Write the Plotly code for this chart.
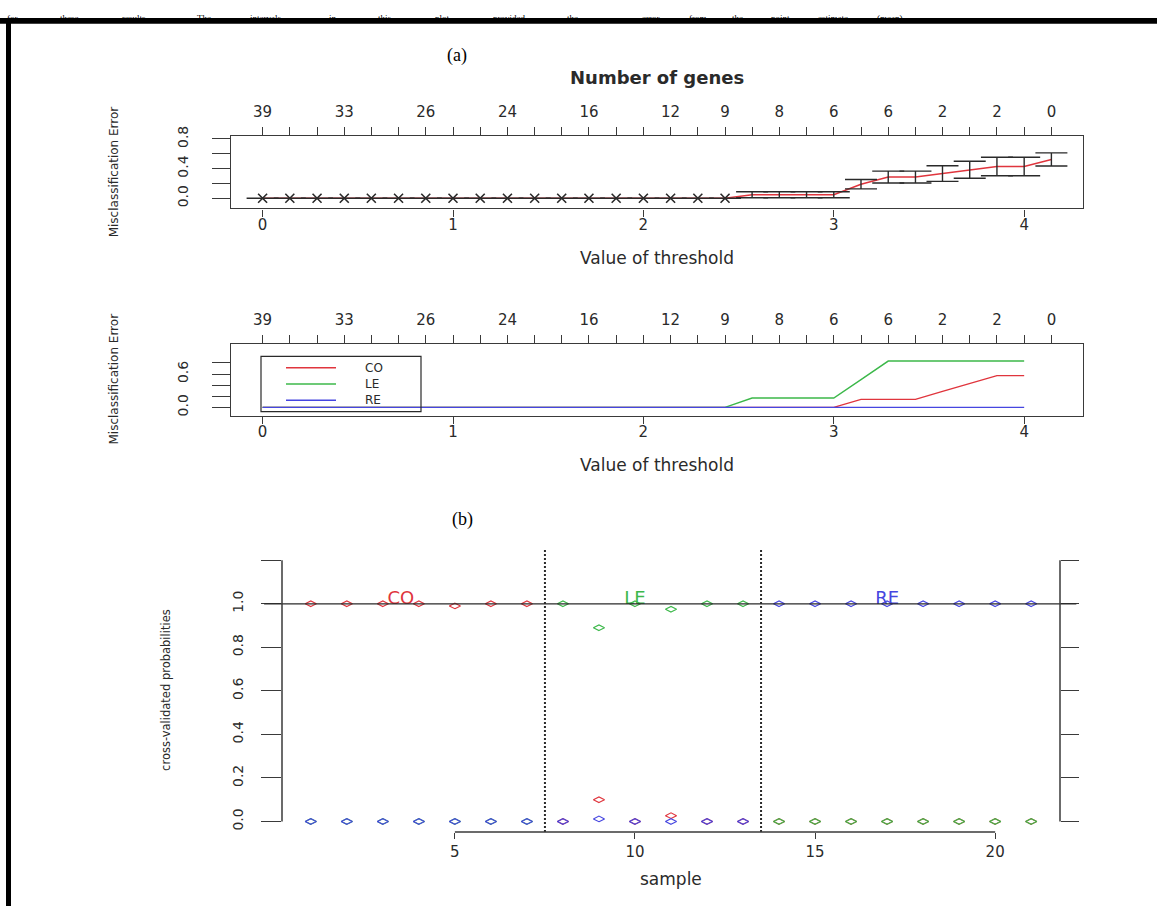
import plotly.graph_objects as go

W, H = 1157, 907

# ---------------- data ----------------
# panel (a) top: cross-validated misclassification error vs threshold
thresholds = [0.000, 0.143, 0.286, 0.429, 0.571, 0.714, 0.857, 1.000, 1.143, 1.286,
              1.429, 1.571, 1.714, 1.857, 2.000, 2.143, 2.286, 2.429, 2.571, 2.714,
              2.857, 3.000, 3.143, 3.286, 3.429, 3.571, 3.714, 3.857, 4.000, 4.143]
gene_labels = ["39", "", "", "33", "", "", "26", "", "", "24", "", "", "16", "", "",
               "12", "", "9", "", "8", "", "6", "", "6", "", "2", "", "2", "", "0"]
cv_error = [0.000, 0.000, 0.000, 0.000, 0.000, 0.000, 0.000, 0.000, 0.000, 0.000,
            0.000, 0.000, 0.000, 0.000, 0.000, 0.000, 0.000, 0.000, 0.048, 0.048,
            0.048, 0.048, 0.190, 0.286, 0.286, 0.333, 0.385, 0.429, 0.429, 0.524]
cv_se = [0.000, 0.000, 0.000, 0.000, 0.000, 0.000, 0.000, 0.000, 0.000, 0.000,
         0.000, 0.000, 0.000, 0.000, 0.000, 0.000, 0.000, 0.000, 0.040, 0.040,
         0.040, 0.040, 0.063, 0.080, 0.080, 0.105, 0.115, 0.125, 0.125, 0.088]

# panel (a) bottom: per-class error vs threshold (thresholds 0 .. 4.0)
class_names = ["CO", "LE", "RE"]
co_error = [0.000, 0.000, 0.000, 0.000, 0.000, 0.000, 0.000, 0.000, 0.000, 0.000,
            0.000, 0.000, 0.000, 0.000, 0.000, 0.000, 0.000, 0.000, 0.000, 0.000,
            0.000, 0.000, 0.143, 0.143, 0.143, 0.286, 0.429, 0.571, 0.571]
le_error = [0.000, 0.000, 0.000, 0.000, 0.000, 0.000, 0.000, 0.000, 0.000, 0.000,
            0.000, 0.000, 0.000, 0.000, 0.000, 0.000, 0.000, 0.000, 0.167, 0.167,
            0.167, 0.167, 0.500, 0.833, 0.833, 0.833, 0.833, 0.833, 0.833]
re_error = [0.000, 0.000, 0.000, 0.000, 0.000, 0.000, 0.000, 0.000, 0.000, 0.000,
            0.000, 0.000, 0.000, 0.000, 0.000, 0.000, 0.000, 0.000, 0.000, 0.000,
            0.000, 0.000, 0.000, 0.000, 0.000, 0.000, 0.000, 0.000, 0.000]

# panel (b): cross-validated probabilities per sample
samples = [1, 2, 3, 4, 5, 6, 7, 8, 9, 10, 11, 12, 13, 14, 15, 16, 17, 18, 19, 20, 21]
class_sizes = [7, 6, 8]
prob_co = [1.00, 1.00, 1.00, 1.00, 0.99, 1.00, 1.00, 0.00, 0.10, 0.00, 0.027, 0.00, 0.00,
           0.00, 0.00, 0.00, 0.00, 0.00, 0.00, 0.00, 0.00]
prob_le = [0.00, 0.00, 0.00, 0.00, 0.00, 0.00, 0.00, 1.00, 0.89, 1.00, 0.975, 1.00, 1.00,
           0.00, 0.00, 0.00, 0.00, 0.00, 0.00, 0.00, 0.00]
prob_re = [0.00, 0.00, 0.00, 0.00, 0.00, 0.00, 0.00, 0.00, 0.012, 0.00, 0.00, 0.00, 0.00,
           1.00, 1.00, 1.00, 1.00, 1.00, 1.00, 1.00, 1.00]

err_ticks = [0.0, 0.2, 0.4, 0.6, 0.8]
err_ticktext_1 = ["0.0", "", "0.4", "", "0.8"]
err_ticktext_2 = ["0.0", "", "", "0.6", ""]
thr_ticks = [0, 1, 2, 3, 4]
prob_ticks = [0.0, 0.2, 0.4, 0.6, 0.8, 1.0, 1.2]
prob_ticktext = ["0.0", "0.2", "0.4", "0.6", "0.8", "1.0", ""]
sample_ticks = [5, 10, 15, 20]

# running text of the page above the figure (cut by the crop)
page_text_left = "for these results. The intervals in this plot provided the"
page_text_right = "error from the point estimate (mean)."

# ---------------- style ----------------
RED = "#E0353D"
GREEN = "#3CB84A"
BLUE = "#4646E0"
INK = "#2a2a2a"
AX = "#3a3a3a"
SANS = "DejaVu Sans, Liberation Sans, Arial, sans-serif"
SERIF = "Liberation Serif, Times New Roman, serif"
CLASS_COLORS = [RED, GREEN, BLUE]


def xd(a, b):
    return [a / W, b / W]


def yd(top, bottom):
    return [1 - bottom / H, 1 - top / H]


def px(x):
    return x / W


def py(y):
    return 1 - y / H


fig = go.Figure()

# ---- panel (a) top ----
fig.add_trace(go.Scatter(x=thresholds, y=cv_error, mode="lines",
                         line=dict(color=RED, width=1.5),
                         xaxis="x", yaxis="y", showlegend=False, hoverinfo="skip"))
min_err = min(cv_error)
best_x = [t for t, e in zip(thresholds, cv_error) if e == min_err]
best_y = [e for e in cv_error if e == min_err]
fig.add_trace(go.Scatter(x=best_x, y=best_y, mode="markers",
                         marker=dict(symbol="x-thin-open", size=9,
                                     line=dict(color=INK, width=1.6), color=INK),
                         xaxis="x", yaxis="y", showlegend=False, hoverinfo="skip"))
fig.add_trace(go.Scatter(x=thresholds, y=cv_error, mode="markers",
                         marker=dict(size=1, color="rgba(0,0,0,0)"),
                         error_y=dict(type="data", array=cv_se, visible=True,
                                      color=INK, thickness=1.4, width=16),
                         xaxis="x2", yaxis="y", showlegend=False, hoverinfo="skip"))

# ---- panel (a) bottom ----
thr2 = thresholds[:len(co_error)]
fig.add_trace(go.Scatter(x=thr2, y=co_error, mode="lines", name=class_names[0],
                         line=dict(color=RED, width=1.4), xaxis="x3", yaxis="y2",
                         showlegend=False, hoverinfo="skip"))
fig.add_trace(go.Scatter(x=thr2, y=le_error, mode="lines", name=class_names[1],
                         line=dict(color=GREEN, width=1.4), xaxis="x3", yaxis="y2",
                         showlegend=False, hoverinfo="skip"))
fig.add_trace(go.Scatter(x=thr2, y=re_error, mode="lines", name=class_names[2],
                         line=dict(color=BLUE, width=1.4), xaxis="x4", yaxis="y2",
                         showlegend=False, hoverinfo="skip"))

# ---- panel (b) ----
mk = dict(symbol="diamond-wide-open", size=8)
fig.add_trace(go.Scatter(x=samples, y=prob_co, mode="markers",
                         marker=dict(**mk, color=RED, line=dict(color=RED, width=1.1)),
                         xaxis="x5", yaxis="y3", showlegend=False, hoverinfo="skip"))
fig.add_trace(go.Scatter(x=samples, y=prob_le, mode="markers",
                         marker=dict(**mk, color=GREEN, line=dict(color=GREEN, width=1.1)),
                         xaxis="x5", yaxis="y3", showlegend=False, hoverinfo="skip"))
fig.add_trace(go.Scatter(x=samples, y=prob_re, mode="markers",
                         marker=dict(**mk, color=BLUE, line=dict(color=BLUE, width=1.1)),
                         xaxis="x5", yaxis="y4", showlegend=False, hoverinfo="skip"))

# class labels centred in each group
label_x = []
start = 0
for n in class_sizes:
    label_x.append(start + n / 2)
    start += n
fig.add_trace(go.Scatter(x=label_x, y=[1.02] * len(label_x), mode="text",
                         text=class_names,
                         textfont=dict(family=SANS, size=18, color=CLASS_COLORS),
                         xaxis="x5", yaxis="y4", showlegend=False, hoverinfo="skip"))

# boundaries between classes
bounds = []
acc = 0
for n in class_sizes[:-1]:
    acc += n
    bounds.append(acc + 0.5)

shapes = []
for b in bounds:
    shapes.append(dict(type="line", xref="x5", yref="y3 domain", x0=b, x1=b, y0=0, y1=1,
                       line=dict(color=INK, width=2, dash="2px,2px")))
# horizontal reference at probability 1
shapes.append(dict(type="line", xref="x5 domain", yref="y3", x0=-0.023, x1=1.021,
                   y0=prob_ticks[5], y1=prob_ticks[5], line=dict(color=INK, width=1.3)))
# axis lines of panel (b)
shapes.append(dict(type="line", xref="x5 domain", yref="y3", x0=0, x1=0,
                   y0=prob_ticks[0], y1=prob_ticks[-1], line=dict(color=AX, width=1.5)))
shapes.append(dict(type="line", xref="x5 domain", yref="y3", x0=1, x1=1,
                   y0=prob_ticks[0], y1=prob_ticks[-1], line=dict(color=AX, width=1.5)))
shapes.append(dict(type="line", xref="x5", yref="y3 domain", x0=sample_ticks[0],
                   x1=sample_ticks[-1], y0=0, y1=0, line=dict(color=AX, width=1.5)))
# page border bars
shapes.append(dict(type="rect", xref="paper", yref="paper", x0=0, x1=1, y0=py(13), y1=py(7),
                   fillcolor="black", line=dict(width=0)))
shapes.append(dict(type="rect", xref="paper", yref="paper", x0=px(6), x1=px(11), y0=0,
                   y1=py(7), fillcolor="black", line=dict(width=0)))

# legend of the class-error panel (drawn like R's legend box)
LEG_L, LEG_R, LEG_T, LEG_B = 261, 421, 350, 406
shapes.append(dict(type="rect", xref="paper", yref="paper", x0=px(LEG_L), x1=px(LEG_R),
                   y0=py(LEG_B), y1=py(LEG_T), line=dict(color=INK, width=1.2),
                   fillcolor="rgba(0,0,0,0)"))
legend_rows = [361.5, 378, 394.5]
for row, col in zip(legend_rows, CLASS_COLORS):
    shapes.append(dict(type="line", xref="paper", yref="paper", x0=px(286), x1=px(336),
                       y0=py(row), y1=py(row), line=dict(color=col, width=1.4)))

tickfont = dict(family=SANS, size=15, color=INK)
ytickfont = dict(family=SANS, size=14, color=INK)

box_x = dict(showline=True, mirror=True, linecolor=AX, linewidth=1.4, ticks="outside",
             ticklen=7, tickwidth=1.3, tickcolor=AX, showgrid=False, zeroline=False,
             tickfont=tickfont, tickvals=thr_ticks, range=[-0.166, 4.309],
             ticklabelstandoff=-5)
top_x = dict(side="top", showline=False, ticks="outside", ticklen=8, tickwidth=1.3,
             tickcolor=AX, showgrid=False, zeroline=False, tickfont=tickfont,
             tickvals=thresholds, ticktext=gene_labels, range=[-0.166, 4.309],
             ticklabelstandoff=4)
box_y = dict(showline=True, mirror=True, linecolor=AX, linewidth=1.4, ticks="outside",
             ticklen=18, tickwidth=1.3, tickcolor=AX, showgrid=False, zeroline=False,
             tickfont=ytickfont, tickangle=-90, tickvals=err_ticks, ticklabelstandoff=18)

fig.update_layout(
    width=W, height=H, autosize=False,
    margin=dict(l=0, r=0, t=0, b=0),
    paper_bgcolor="white", plot_bgcolor="rgba(0,0,0,0)",
    showlegend=False,
    xaxis=dict(**box_x, domain=xd(231, 1083), anchor="y"),
    xaxis2=dict(**top_x, overlaying="x", anchor="y"),
    yaxis=dict(**box_y, domain=yd(127, 200), anchor="x", range=[-0.136, 0.836],
               ticktext=err_ticktext_1),
    xaxis3=dict(**box_x, domain=xd(231, 1083), anchor="y2"),
    xaxis4=dict(**top_x, overlaying="x3", anchor="y2"),
    yaxis2=dict(**box_y, domain=yd(337, 410), anchor="x3", range=[-0.148, 1.148],
                ticktext=err_ticktext_2),
    xaxis5=dict(domain=xd(282, 1060), anchor="y3", range=[0.2, 21.8], showline=False,
                ticks="outside", ticklen=6, tickwidth=1.3, tickcolor=AX, showgrid=False,
                zeroline=False, tickfont=tickfont, tickvals=sample_ticks),
    yaxis3=dict(domain=yd(546, 832), anchor="x5", range=[-0.048, 1.248], showline=False,
                ticks="outside", ticklen=20, tickwidth=1.3, tickcolor=AX, showgrid=False,
                zeroline=False, tickfont=ytickfont, tickangle=-90, tickvals=prob_ticks,
                ticktext=prob_ticktext, ticklabelstandoff=12),
    yaxis4=dict(overlaying="y3", side="right", anchor="x5", range=[-0.048, 1.248],
                showline=False, ticks="outside", ticklen=18, tickwidth=1.3, tickcolor=AX,
                showgrid=False, zeroline=False, showticklabels=False, tickvals=prob_ticks),
    shapes=shapes,
)


def ann(text, x, y, size, family=SANS, angle=0, color=INK, xanchor="center",
        yanchor="middle", bold=False):
    return dict(text=("<b>%s</b>" % text) if bold else text, x=px(x), y=py(y),
                xref="paper", yref="paper", showarrow=False, textangle=angle,
                xanchor=xanchor, yanchor=yanchor,
                font=dict(family=family, size=size, color=color))


annotations = []

# justified page text strip above the black rule (small, fully inside the page)
PAGE_FS = 9


def justified(words, x_left, x_right):
    est = [len(w) * 0.47 * PAGE_FS for w in words]
    gap = (x_right - x_left - sum(est)) / max(len(words) - 1, 1)
    x = x_left
    for w, e in zip(words, est):
        annotations.append(ann(w, x, 0.5, PAGE_FS, family=SERIF, xanchor="left",
                               yanchor="top", color="black"))
        x += e + gap


justified(page_text_left.split(" "), 5, 578)
justified(page_text_right.split(" "), 640, 905)

annotations += [
    ann("(a)", 457, 45, 18, family=SERIF, color="black"),
    ann("Number of genes", 657, 67, 18, bold=True),
    ann("Value of threshold", 657, 250, 17),
    ann("Misclassification Error", 114, 163.5, 12, angle=-90),
    ann("Value of threshold", 657, 460, 17),
    ann("Misclassification Error", 114, 373.5, 12, angle=-90),
    ann("(b)", 462, 515, 18, family=SERIF, color="black"),
    ann("cross-validated probabilities", 166, 688, 11.5, angle=-90),
    ann("sample", 671, 880, 17),
]
for row, name in zip(legend_rows, class_names):
    annotations.append(ann(name, 363, row, 12, xanchor="left"))
fig.update_layout(annotations=annotations)

fig.write_html("out.html", config={"displayModeBar": False},
               post_script="document.body.style.margin='0';")
